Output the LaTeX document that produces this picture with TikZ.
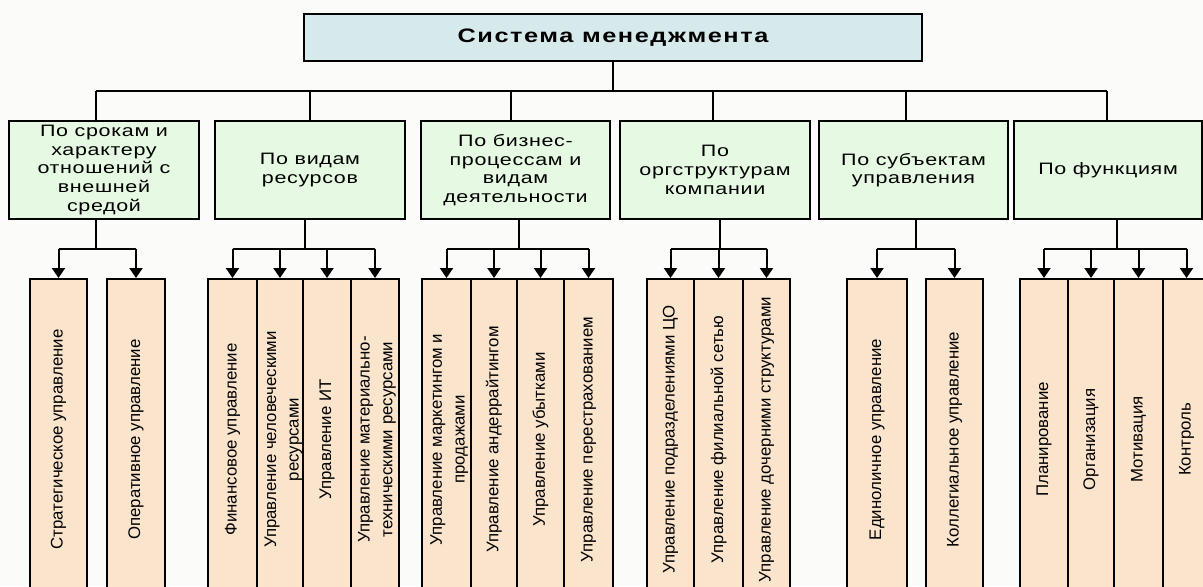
\documentclass[tikz,border=0pt]{standalone}
\usepackage{fontspec}
\setmainfont{Liberation Sans}
\newfontfamily\titlefont[FakeStretch=1.3,LetterSpace=8]{Liberation Sans}
\newfontfamily\catfont[FakeStretch=1.3,LetterSpace=4]{Liberation Sans}
\usetikzlibrary{arrows.meta}
\definecolor{bgc}{RGB}{251,252,249}
\definecolor{titlefill}{RGB}{214,234,236}
\definecolor{catfill}{RGB}{230,249,226}
\definecolor{leaffill}{RGB}{250,228,204}
\begin{document}
\begin{tikzpicture}[x=0.75pt,y=-0.75pt,line width=1.5pt,
  titlebox/.style={draw, fill=titlefill, minimum width=463.5pt, minimum height=35.25pt, inner sep=0pt,
     font=\titlefont\bfseries\fontsize{14.6pt}{18pt}\selectfont},
  catbox/.style={draw, fill=catfill, minimum width=#1*0.75pt, minimum height=73.5pt, inner sep=0pt, align=center,
     font=\catfont\fontsize{12.4pt}{14pt}\selectfont},
  leafbox/.style={draw, fill=leaffill, minimum width=#1*0.75pt, minimum height=240.75pt, inner sep=0pt},
  leaftext/.style={rotate=90, align=center, inner sep=0pt, font=\fontsize{12.6pt}{17pt}\selectfont},
  link/.style={line width=1.5pt},
  arr/.style={line width=1.5pt, -{Triangle[width=9.75pt,length=7.5pt]}}
]
\path[use as bounding box, fill=bgc] (0,0) rectangle (1203,586);
\clip (0,0) rectangle (1203,586);

% title
\node[titlebox] (title) at (613,37.5) {Система менеджмента};

% categories
\node[catbox=190] (c1) at (104,170) {По срокам и\\характеру\\отношений с\\внешней\\средой};
\node[catbox=190] (c2) at (310,170) {По видам\\ресурсов};
\node[catbox=189] (c3) at (515.5,170) {По бизнес-\\процессам и\\видам\\деятельности};
\node[catbox=190] (c4) at (715,170) {По\\оргструктурам\\компании};
\node[catbox=189] (c5) at (913.5,170) {По субъектам\\управления};
\node[catbox=188] (c6) at (1108,170) {По функциям};

% leaves
\node[leafbox=57] (l11) at (58.5,439.5) {};
\node[leafbox=58] (l12) at (136,439.5) {};
\node[leafbox=49] (l21) at (232.5,439.5) {};
\node[leafbox=46] (l22) at (280,439.5) {};
\node[leafbox=48] (l23) at (327,439.5) {};
\node[leafbox=48] (l24) at (375,439.5) {};
\node[leafbox=49] (l31) at (446.5,439.5) {};
\node[leafbox=46] (l32) at (494,439.5) {};
\node[leafbox=47] (l33) at (540.5,439.5) {};
\node[leafbox=49] (l34) at (588.5,439.5) {};
\node[leafbox=47] (l41) at (670.5,439.5) {};
\node[leafbox=49] (l42) at (718.5,439.5) {};
\node[leafbox=47] (l43) at (766.5,439.5) {};
\node[leafbox=60] (l51) at (877,439.5) {};
\node[leafbox=57] (l52) at (954.5,439.5) {};
\node[leafbox=48] (l61) at (1044,439.5) {};
\node[leafbox=46] (l62) at (1091,439.5) {};
\node[leafbox=49] (l63) at (1138.5,439.5) {};
\node[leafbox=47] (l64) at (1186.5,439.5) {};

% leaf labels
\node[leaftext] (t11) at (l11.center) {Стратегическое управление};
\node[leaftext] (t12) at (l12.center) {Оперативное управление};
\node[leaftext] (t21) at (l21.center) {Финансовое управление};
\node[leaftext] (t22) at ([xshift=2.5pt]l22.center) {Управление человеческими\\ресурсами};
\node[leaftext] (t23) at (l23.center) {Управление ИТ};
\node[leaftext] (t24) at ([xshift=1.5pt]l24.center) {Управление материально-\\техническими ресурсами};
\node[leaftext] (t31) at ([xshift=2pt]l31.center) {Управление маркетингом и\\продажами};
\node[leaftext] (t32) at (l32.center) {Управление андеррайтингом};
\node[leaftext] (t33) at (l33.center) {Управление убытками};
\node[leaftext] (t34) at (l34.center) {Управление перестрахованием};
\node[leaftext] (t41) at (l41.center) {Управление подразделениями ЦО};
\node[leaftext] (t42) at (l42.center) {Управление филиальной сетью};
\node[leaftext] (t43) at (l43.center) {Управление дочерними структурами};
\node[leaftext] (t51) at (l51.center) {Единоличное управление};
\node[leaftext] (t52) at (l52.center) {Коллегиальное управление};
\node[leaftext] (t61) at (l61.center) {Планирование};
\node[leaftext] (t62) at (l62.center) {Организация};
\node[leaftext] (t63) at (l63.center) {Мотивация};
\node[leaftext] (t64) at (l64.center) {Контроль};

% top level connectors
\coordinate (s1) at (96,91);
\coordinate (s2) at (310,91);
\coordinate (s3) at (511,91);
\coordinate (s4) at (713,91);
\coordinate (s5) at (906,91);
\coordinate (s6) at (1107,91);
\draw[link] (title.south) -- (title.south |- s1);
\draw[link] (s1) -- (s6);
\foreach \i in {1,...,6} {\draw[link] (s\i) -- (s\i |- c\i.north);}

% second level stems
\coordinate (u1) at (96,249);
\coordinate (u2) at (305,249);
\coordinate (u3) at (519,249);
\coordinate (u4) at (720,249);
\coordinate (u5) at (916,249);
\coordinate (u6) at (1117,249);
\foreach \i in {1,...,6} {\draw[link] (u\i |- c\i.south) -- (u\i);}

% buses
\draw[link] (l11.north |- u1) -- (l12.north |- u1);
\draw[link] (l21.north |- u2) -- (l24.north |- u2);
\draw[link] (l31.north |- u3) -- (l34.north |- u3);
\draw[link] (l41.north |- u4) -- (l43.north |- u4);
\draw[link] (l51.north |- u5) -- (l52.north |- u5);
\draw[link] (l61.north |- u6) -- (l64.north |- u6);

% arrows
\foreach \n/\u in {l11/u1,l12/u1,l21/u2,l22/u2,l23/u2,l24/u2,l31/u3,l32/u3,l33/u3,l34/u3,l41/u4,l42/u4,l43/u4,l51/u5,l52/u5,l61/u6,l62/u6,l63/u6,l64/u6}
  {\draw[arr] (\n.north |- \u) -- (\n.north);}
\end{tikzpicture}
\end{document}
